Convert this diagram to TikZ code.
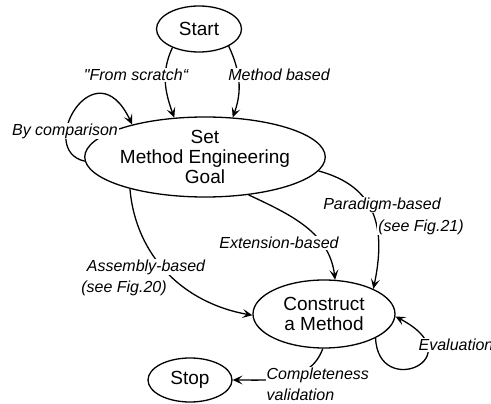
\documentclass[tikz,border=0pt]{standalone}
\usepackage{fontspec}
\setmainfont{Liberation Sans}
\newfontfamily\straightq{Liberation Sans}
\usetikzlibrary{shapes.geometric,arrows.meta}

\begin{document}
\begin{tikzpicture}[x=1pt, y=-1pt, line width=1.3pt,
	state/.style={draw,shape=ellipse,inner sep=0pt,align=center,font=\fontsize{19}{20}\selectfont},
	lbl/.style={fill=white,inner sep=1pt,align=left,font=\fontsize{16}{21}\selectfont\itshape},
	every edge/.style={draw,-{Stealth[length=10pt,width=9pt,inset=4.5pt]}}]
		\useasboundingbox (0,0) rectangle (491,404);
		\path (199,29) node[state,minimum width=85pt,minimum height=46pt] (start) {Start}
		(205,157) node[state,minimum width=194pt,minimum height=80pt] (goal) {Set\\Method Engineering\\Goal}
		(324,314) node[state,minimum width=142pt,minimum height=68pt] (construct) {Construct\\a Method}
		(190,380) node[state,minimum width=84pt,minimum height=44pt] (stop) {Stop};

		\path (start.215) edge[out=245,in=110] (goal.128)
		(start.330) edge[out=295,in=70] (goal.55)
		(goal.182) edge[controls={(35,150) and (95,45)}] (goal.156)
		(goal.203) edge[out=275,in=170] (construct.181)
		(goal.319) edge[out=-25,in=97] (construct.72)
		(goal.353) edge[out=-15,in=78,looseness=1.2] (construct.27)
		(construct.335) edge[controls={(378,400) and (475,358)}] (construct.358)
		(construct.268) edge[out=250,in=0] (stop.east);

		\node[lbl] (scratch) at (136,75) {{\straightq\itshape"}From scratch“};
		\node[lbl] (based) at (279,75) {Method based};
		\node[lbl] (comparison) at (65,131) {By comparison};
		\node[lbl] (assembly) at (146,267) {Assembly-based};
		\node[lbl] (fig20) at (124,288) {(see Fig.20)};
		\node[lbl] (extension) at (279,243) {Extension-based};
		\node[lbl] (paradigm) at (382,205) {Paradigm-based};
		\node[lbl] (fig21) at (421,227) {(see Fig.21)};
		\node[lbl,anchor=west] (evaluation) at (417,345) {Evaluation};
		\node[lbl,anchor=west] (completeness) at (265,384) {Completeness\\validation};
	\end{tikzpicture}
\end{document}
